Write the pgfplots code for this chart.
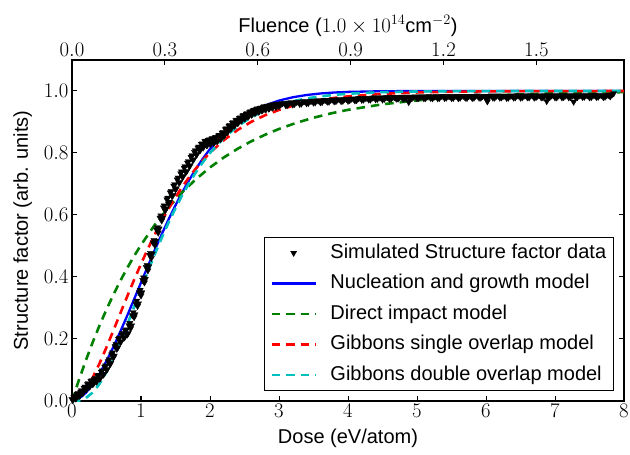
\documentclass[border=0pt]{standalone}
\usepackage{pgfplots}
\pgfplotsset{compat=1.18}
\usepackage{fontspec}
\setmainfont{Liberation Sans}
\definecolor{mplgreen}{rgb}{0,0.5,0}
\definecolor{mplcyan}{rgb}{0,0.75,0.75}
\begin{document}
\begin{tikzpicture}
\pgfplotsset{
  every axis/.append style={font=\fontsize{20}{24}\selectfont},
  legend image code/.code={\draw[mark repeat=2,mark phase=2,#1] plot coordinates {(0pt,0pt) (22pt,0pt) (44pt,0pt)};},
  datamark/.style={only marks, mark=triangle*, mark size=3.6pt, mark options={rotate=180, fill=black, draw=black, line width=0.3pt}},
  dashedmodel/.style={line width=2.6pt, dash pattern=on 8.5pt off 6pt},
}
\begin{axis}[name=ax,
  scale only axis, width=552pt, height=341pt,
  xmin=0, xmax=8, ymin=0, ymax=1.1,
  xtick={0,1,2,3,4,5,6,7,8},
  ytick={0,0.2,0.4,0.6,0.8,1.0},
  yticklabel style={/pgf/number format/.cd, fixed, fixed zerofill, precision=1},
  xlabel={Dose (eV/atom)},
  ylabel={Structure factor (arb. units)},
  xlabel shift=4pt, ylabel shift=5pt,
  axis line style={line width=1.5pt},
  tick style={line width=1pt, black},
  major tick length=5pt,
  tick align=inside,
  xtick pos=bottom, ytick pos=both,
  legend cell align=left,
  legend style={at={(0.982,0.029)}, anchor=south east, draw=black, line width=0.8pt, fill=white,
    inner xsep=6pt, inner ysep=5pt, row sep=9pt,
    font=\fontsize{20}{24}\selectfont,
    nodes={inner sep=1.5pt, text height=14.5pt, text depth=4pt},
    /tikz/every odd column/.append style={column sep=12pt}},
]
\addplot[datamark, forget plot] coordinates {
(0.0125,0.002) (0.0375,0.016) (0.0625,0.009) (0.0875,0.025) (0.1125,0.017) (0.1375,0.034) (0.1625,0.027) (0.1875,0.046)
(0.2125,0.038) (0.2375,0.057) (0.2625,0.048) (0.2875,0.066) (0.3125,0.056) (0.3375,0.074) (0.3625,0.064) (0.3875,0.084)
(0.4125,0.074) (0.4375,0.098) (0.4625,0.087) (0.4875,0.114) (0.5125,0.103) (0.5375,0.134) (0.5625,0.122) (0.5875,0.156)
(0.6125,0.146) (0.6375,0.183) (0.6625,0.172) (0.6875,0.204) (0.7125,0.192) (0.7375,0.219) (0.7625,0.205) (0.7875,0.230)
(0.8125,0.218) (0.8375,0.251) (0.8625,0.243) (0.8875,0.286) (0.9125,0.279) (0.9375,0.323) (0.9625,0.314) (0.9875,0.358)
(1.0125,0.350) (1.0375,0.398) (1.0625,0.393) (1.0875,0.438) (1.1125,0.434) (1.1375,0.477) (1.1625,0.475) (1.1875,0.519)
(1.2125,0.516) (1.2375,0.560) (1.2625,0.556) (1.2875,0.598) (1.3125,0.591) (1.3375,0.630) (1.3625,0.620) (1.3875,0.655)
(1.4125,0.642) (1.4375,0.677) (1.4625,0.664) (1.4875,0.699) (1.5125,0.686) (1.5375,0.720) (1.5625,0.706) (1.5875,0.740)
(1.6125,0.725) (1.6375,0.757) (1.6625,0.741) (1.6875,0.773) (1.7125,0.760) (1.7375,0.792) (1.7625,0.779) (1.7875,0.808)
(1.8125,0.796) (1.8375,0.820) (1.8625,0.810) (1.8875,0.830) (1.9125,0.822) (1.9375,0.839) (1.9625,0.826) (1.9875,0.843)
(2.0125,0.830) (2.0375,0.847) (2.0625,0.834) (2.0875,0.851) (2.1125,0.839) (2.1375,0.858) (2.1625,0.847) (2.1875,0.867)
(2.2125,0.858) (2.2375,0.879) (2.2625,0.870) (2.2875,0.890) (2.3125,0.881) (2.3375,0.899) (2.3625,0.890) (2.3875,0.907)
(2.4125,0.898) (2.4375,0.914) (2.4625,0.906) (2.4875,0.922) (2.5125,0.913) (2.5375,0.928) (2.5625,0.919) (2.5875,0.934)
(2.6125,0.925) (2.6375,0.939) (2.6625,0.930) (2.6875,0.943) (2.7125,0.934) (2.7375,0.946) (2.7625,0.938) (2.7875,0.950)
(2.8125,0.941) (2.8375,0.952) (2.8625,0.944) (2.8875,0.955) (2.9125,0.947) (2.9375,0.957) (2.9625,0.949) (2.9875,0.959)
(3.025,0.956) (3.075,0.961) (3.125,0.955) (3.175,0.963) (3.225,0.958) (3.275,0.965) (3.325,0.959) (3.375,0.966)
(3.425,0.961) (3.475,0.968) (3.525,0.963) (3.575,0.969) (3.625,0.964) (3.675,0.971) (3.725,0.965) (3.775,0.972)
(3.825,0.967) (3.875,0.973) (3.925,0.968) (3.975,0.974) (4.025,0.970) (4.075,0.975) (4.125,0.970) (4.175,0.977)
(4.225,0.972) (4.275,0.977) (4.325,0.972) (4.375,0.979) (4.425,0.974) (4.475,0.979) (4.525,0.974) (4.575,0.980)
(4.625,0.975) (4.675,0.980) (4.725,0.975) (4.775,0.981) (4.825,0.976) (4.875,0.981) (4.925,0.976) (4.975,0.982)
(5.025,0.977) (5.075,0.982) (5.125,0.977) (5.175,0.983) (5.225,0.976) (5.275,0.983) (5.325,0.977) (5.375,0.984)
(5.425,0.978) (5.475,0.983) (5.525,0.977) (5.575,0.984) (5.625,0.978) (5.675,0.984) (5.725,0.977) (5.775,0.984)
(5.825,0.978) (5.875,0.985) (5.925,0.978) (5.975,0.984) (6.025,0.979) (6.075,0.985) (6.125,0.978) (6.175,0.985)
(6.225,0.979) (6.275,0.984) (6.325,0.978) (6.375,0.985) (6.425,0.979) (6.475,0.985) (6.525,0.979) (6.575,0.986)
(6.625,0.979) (6.675,0.985) (6.725,0.980) (6.775,0.986) (6.825,0.979) (6.875,0.985) (6.925,0.980) (6.975,0.986)
(7.025,0.979) (7.075,0.986) (7.125,0.980) (7.175,0.986) (7.225,0.980) (7.275,0.986) (7.325,0.980) (7.375,0.986)
(7.425,0.981) (7.475,0.986) (7.525,0.980) (7.575,0.987) (7.625,0.981) (7.675,0.986) (7.725,0.981) (7.775,0.987)
(7.825,0.988)
};
\addplot[datamark] coordinates {
(0.000,0.006) (0.025,0.012) (0.050,0.008) (0.075,0.022) (0.100,0.016) (0.125,0.030) (0.150,0.024) (0.175,0.042)
(0.200,0.038) (0.225,0.054) (0.250,0.046) (0.275,0.064) (0.300,0.054) (0.325,0.070) (0.350,0.062) (0.375,0.080)
(0.400,0.072) (0.425,0.094) (0.450,0.084) (0.475,0.110) (0.500,0.100) (0.525,0.128) (0.550,0.118) (0.575,0.150)
(0.600,0.140) (0.625,0.176) (0.650,0.168) (0.675,0.200) (0.700,0.190) (0.725,0.214) (0.750,0.204) (0.775,0.226)
(0.800,0.214) (0.825,0.244) (0.850,0.234) (0.875,0.276) (0.900,0.270) (0.925,0.314) (0.950,0.306) (0.975,0.350)
(1.000,0.340) (1.025,0.390) (1.050,0.382) (1.075,0.432) (1.100,0.421) (1.125,0.471) (1.150,0.461) (1.175,0.511)
(1.200,0.503) (1.225,0.553) (1.250,0.543) (1.275,0.591) (1.300,0.582) (1.325,0.624) (1.350,0.614) (1.375,0.650)
(1.400,0.636) (1.425,0.672) (1.450,0.660) (1.475,0.694) (1.500,0.682) (1.525,0.714) (1.550,0.704) (1.575,0.734)
(1.600,0.722) (1.625,0.752) (1.650,0.738) (1.675,0.768) (1.700,0.756) (1.725,0.787) (1.750,0.777) (1.775,0.803)
(1.800,0.794) (1.825,0.817) (1.850,0.808) (1.875,0.829) (1.900,0.817) (1.925,0.838) (1.950,0.825) (1.975,0.842)
(2.000,0.829) (2.025,0.846) (2.050,0.833) (2.075,0.850) (2.100,0.838) (2.125,0.856) (2.150,0.845) (2.175,0.865)
(2.200,0.855) (2.225,0.876) (2.250,0.867) (2.275,0.887) (2.300,0.878) (2.325,0.897) (2.350,0.887) (2.375,0.905)
(2.400,0.896) (2.425,0.912) (2.450,0.904) (2.475,0.920) (2.500,0.911) (2.525,0.926) (2.550,0.917) (2.575,0.932)
(2.600,0.923) (2.625,0.937) (2.650,0.929) (2.675,0.941) (2.700,0.933) (2.725,0.945) (2.750,0.937) (2.775,0.949)
(2.800,0.940) (2.825,0.951) (2.850,0.943) (2.875,0.954) (2.900,0.946) (2.925,0.956) (2.950,0.949) (2.975,0.958)
(3.000,0.951) (3.05,0.960) (3.10,0.953) (3.15,0.962) (3.20,0.956) (3.25,0.964) (3.30,0.958) (3.35,0.966)
(3.40,0.960) (3.45,0.967) (3.50,0.962) (3.55,0.969) (3.60,0.963) (3.65,0.970) (3.70,0.965) (3.75,0.971)
(3.80,0.966) (3.85,0.972) (3.90,0.967) (3.95,0.974) (4.00,0.968) (4.05,0.975) (4.10,0.969) (4.15,0.976)
(4.20,0.971) (4.25,0.977) (4.30,0.972) (4.35,0.978) (4.40,0.973) (4.45,0.978) (4.50,0.972) (4.55,0.979)
(4.60,0.974) (4.65,0.980) (4.70,0.975) (4.75,0.980) (4.80,0.974) (4.85,0.981) (4.88,0.964) (4.90,0.975)
(4.95,0.981) (5.00,0.976) (5.05,0.982) (5.10,0.976) (5.15,0.982) (5.20,0.977) (5.25,0.982) (5.30,0.976)
(5.35,0.983) (5.40,0.977) (5.45,0.983) (5.50,0.977) (5.55,0.983) (5.60,0.976) (5.65,0.984) (5.70,0.978)
(5.75,0.983) (5.80,0.977) (5.85,0.984) (5.90,0.978) (5.95,0.983) (6.00,0.977) (6.02,0.966) (6.05,0.984)
(6.10,0.978) (6.15,0.984) (6.20,0.978) (6.25,0.984) (6.30,0.977) (6.35,0.984) (6.40,0.978) (6.45,0.985)
(6.50,0.978) (6.55,0.984) (6.60,0.979) (6.65,0.985) (6.70,0.978) (6.75,0.984) (6.80,0.979) (6.85,0.985)
(6.88,0.967) (6.90,0.978) (6.95,0.985) (7.00,0.979) (7.05,0.985) (7.10,0.979) (7.15,0.985) (7.20,0.979)
(7.25,0.985) (7.27,0.965) (7.30,0.979) (7.35,0.985) (7.40,0.980) (7.45,0.986) (7.50,0.979) (7.55,0.985)
(7.60,0.980) (7.65,0.986) (7.70,0.980) (7.75,0.986) (7.80,0.982) (7.85,0.992)
};
\addlegendentry{Simulated Structure factor data}
\addplot[blue, line width=2.3pt] coordinates {
(0,0) (0.1,0.0076) (0.2,0.0262) (0.3,0.0536) (0.4,0.0883) (0.5,0.1291) (0.6,0.1745) (0.7,0.2237)
(0.8,0.2753) (0.9,0.3283) (1.0,0.3819) (1.1,0.4351) (1.2,0.4873) (1.3,0.5377) (1.4,0.5859) (1.5,0.6314)
(1.6,0.6741) (1.7,0.7137) (1.8,0.7499) (1.9,0.7829) (2.0,0.8128) (2.2,0.8631) (2.4,0.9023) (2.6,0.9319)
(2.8,0.9536) (3.0,0.9691) (3.2,0.9798) (3.4,0.9871) (3.6,0.9920) (3.8,0.9951) (4.0,0.9971) (4.5,0.9993)
(5.0,0.9998) (5.5,1.0) (6.0,1.0) (7.0,1.0) (8.0,1.0)
};
\addlegendentry{Nucleation and growth model}
\addplot[mplgreen, dashedmodel] coordinates {
(0,0) (0.1,0.0676) (0.2,0.1306) (0.3,0.1894) (0.4,0.2442) (0.5,0.2953) (0.6,0.3430) (0.7,0.3874)
(0.8,0.4288) (0.9,0.4674) (1.0,0.5034) (1.2,0.5683) (1.4,0.6247) (1.6,0.6737) (1.8,0.7163) (2.0,0.7534)
(2.2,0.7856) (2.4,0.8136) (2.6,0.8380) (2.8,0.8591) (3.0,0.8775) (3.25,0.8972) (3.5,0.9137) (3.75,0.9276)
(4.0,0.9392) (4.5,0.9571) (5.0,0.9698) (5.5,0.9787) (6.0,0.9850) (6.5,0.9894) (7.0,0.9926) (7.5,0.9948) (8.0,0.9963)
};
\addlegendentry{Direct impact model}
\addplot[red, dashedmodel] coordinates {
(0,0) (0.1,0.0102) (0.2,0.0369) (0.3,0.0754) (0.4,0.1219) (0.5,0.1734) (0.6,0.2275) (0.7,0.2826)
(0.8,0.3374) (0.9,0.3908) (1.0,0.4422) (1.1,0.4912) (1.2,0.5372) (1.3,0.5803) (1.4,0.6204) (1.5,0.6574)
(1.6,0.6916) (1.7,0.7228) (1.8,0.7513) (1.9,0.7773) (2.0,0.8009) (2.2,0.8414) (2.4,0.8743) (2.6,0.9008)
(2.8,0.9220) (3.0,0.9389) (3.2,0.9523) (3.4,0.9628) (3.6,0.9711) (3.8,0.9776) (4.0,0.9826) (4.5,0.9909)
(5.0,0.9953) (5.5,0.9976) (6.0,0.9988) (6.5,0.9994) (7.0,0.9997) (7.5,0.9998) (8.0,0.9999)
};
\addlegendentry{Gibbons single overlap model}
\addplot[mplcyan, dashedmodel] coordinates {
(0,0) (0.1,0.0013) (0.2,0.0095) (0.3,0.0274) (0.4,0.0557) (0.5,0.0936) (0.6,0.1393) (0.7,0.1906)
(0.8,0.2460) (0.9,0.3034) (1.0,0.3609) (1.1,0.4181) (1.2,0.4735) (1.3,0.5263) (1.4,0.5760) (1.5,0.6222)
(1.6,0.6649) (1.7,0.7040) (1.8,0.7392) (1.9,0.7714) (2.0,0.8002) (2.2,0.8485) (2.4,0.8864) (2.6,0.9155)
(2.8,0.9377) (3.0,0.9543) (3.2,0.9668) (3.4,0.9760) (3.6,0.9827) (3.8,0.9876) (4.0,0.9912) (4.5,0.9963)
(5.0,0.9985) (5.5,0.9994) (6.0,0.9997) (6.5,0.9999) (7.0,1.0) (8.0,1.0)
};
\addlegendentry{Gibbons double overlap model}
\end{axis}
\begin{axis}[
  scale only axis, width=552pt, height=341pt,
  xmin=0, xmax=1.783, ymin=0, ymax=1.1,
  axis x line*=top, axis y line=none,
  xtick={0,0.3,0.6,0.9,1.2,1.5},
  xticklabel style={/pgf/number format/.cd, fixed, fixed zerofill, precision=1},
  xlabel={Fluence ($1.0\times10^{14}\mathrm{cm}^{-2}$)},
  axis line style={line width=1.5pt},
  tick style={line width=1pt, black},
  major tick length=5pt,
  tick align=inside,
]
\end{axis}
\pgfresetboundingbox
\path[use as bounding box] ([shift={(-72pt,-53pt)}]ax.south west) rectangle ([shift={(6pt,60pt)}]ax.north east);
\end{tikzpicture}
\end{document}
